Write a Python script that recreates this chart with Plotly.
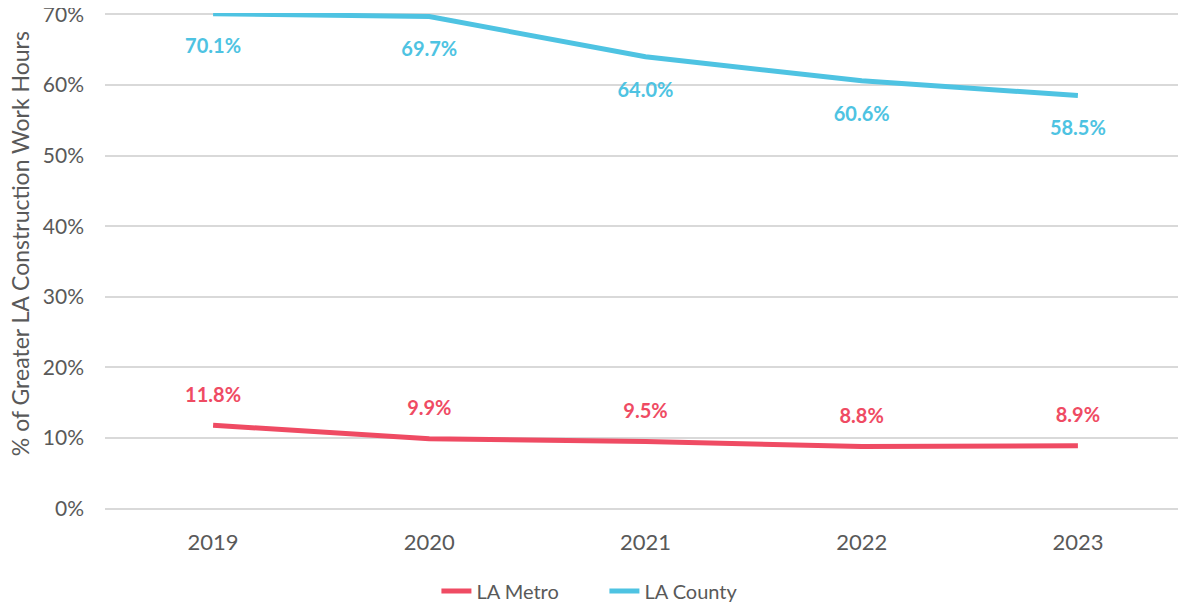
import plotly.graph_objects as go

years = ["2019", "2020", "2021", "2022", "2023"]
la_metro = [0.118, 0.099, 0.095, 0.088, 0.089]
la_county = [0.701, 0.697, 0.640, 0.606, 0.585]

METRO_COLOR = "#EF4B63"
COUNTY_COLOR = "#4EC3E2"
FONT = "Lato"


def pct(vals):
    return ["<b>%.1f%%</b>" % (v * 100) for v in vals]


def main():
    fig = go.Figure()
    fig.add_trace(go.Scatter(x=years, y=la_metro, mode="lines", name="LA Metro",
                             line=dict(color=METRO_COLOR, width=5), cliponaxis=False))
    fig.add_trace(go.Scatter(x=years, y=la_county, mode="lines", name="LA County",
                             line=dict(color=COUNTY_COLOR, width=5), cliponaxis=False))

    # data labels: county below the line, metro above
    # (invisible markers push the text away from the line)
    fig.add_trace(go.Scatter(x=years, y=la_county, mode="markers+text", text=pct(la_county),
                             textposition="bottom center", showlegend=False, hoverinfo="skip",
                             marker=dict(size=38, color="rgba(0,0,0,0)"), cliponaxis=False,
                             textfont=dict(family=FONT, size=20, color=COUNTY_COLOR)))
    fig.add_trace(go.Scatter(x=years, y=la_metro, mode="markers+text", text=pct(la_metro),
                             textposition="top center", showlegend=False, hoverinfo="skip",
                             marker=dict(size=28, color="rgba(0,0,0,0)"), cliponaxis=False,
                             textfont=dict(family=FONT, size=20, color=METRO_COLOR)))

    # y title as an annotation so it can sit closer to the page edge
    fig.add_annotation(text="% of Greater LA Construction Work Hours", textangle=-90,
                       xref="paper", yref="paper", x=-0.0786, y=0.535, showarrow=False,
                       xanchor="center", yanchor="middle",
                       font=dict(family=FONT, size=23, color="#595959"))

    # page body has an 8px margin, so the figure is shrunk/offset accordingly
    fig.update_layout(
        width=1178, height=598,
        margin=dict(l=97, r=0, t=5, b=96, autoexpand=False),
        plot_bgcolor="white", paper_bgcolor="white",
        font=dict(family=FONT, size=21, color="#595959"),
        legend=dict(orientation="h", x=0.462, xanchor="center", y=-0.163, yanchor="middle",
                    font=dict(size=20, color="#595959"), entrywidth=123),
        showlegend=True,
    )
    fig.update_xaxes(type="category", range=[-0.5, 4.5], showgrid=False, showline=False,
                     ticks="", ticklabelstandoff=17, automargin=False,
                     tickfont=dict(size=22))
    # small padding on the range so the 0% and 70% gridlines are not clipped away
    fig.update_yaxes(range=[-0.002, 0.702], tickvals=[0, 0.1, 0.2, 0.3, 0.4, 0.5, 0.6, 0.7],
                     tickformat=".0%", showgrid=True, ticklabeloverflow="allow",
                     gridcolor="#D9D9D9", gridwidth=1.5, zeroline=False, showline=False,
                     ticklabelstandoff=20, automargin=False)
    fig.write_html("out.html")


if __name__ == "__main__":
    main()
